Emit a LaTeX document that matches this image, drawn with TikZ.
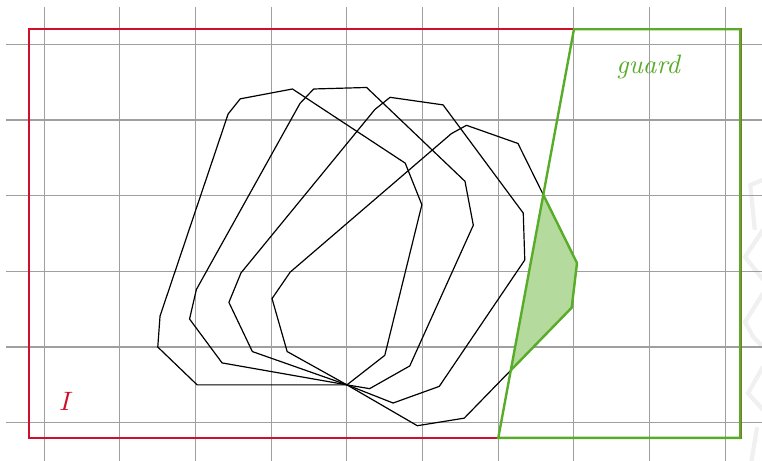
\documentclass[tikz,border=0pt]{standalone}
\usepackage{tikz}
\definecolor{invred}{RGB}{206,16,44}
\definecolor{guardgreen}{RGB}{88,172,40}

\begin{document}
\begin{tikzpicture}[
  gridline/.style  = {gray!75, line width=0.4pt},
  poly/.style      = {black, line width=0.45pt},
  invline/.style   = {invred, line width=0.8pt},
  guardline/.style = {guardgreen, line width=0.9pt},
  hit/.style       = {guardgreen, fill=guardgreen!45, line width=0.9pt},
  ghost/.style     = {gray!12, line width=1.6pt},
]
  \useasboundingbox (-0.585,-0.493) rectangle (9.485,5.586);
  \clip (-0.585,-0.493) rectangle (9.485,5.586);

  % faint shapes at the right border
  \draw[ghost] (9.5,3.21) -- (9.33,3.14) -- (9.39,2.55);
  \draw[ghost] (9.5,2.55) -- (9.26,2.19) -- (9.5,1.89);
  \draw[ghost] (9.5,1.71) -- (9.26,1.33) -- (9.37,1.13) -- (9.5,1.0);
  \draw[ghost] (9.5,0.74) -- (9.30,0.39) -- (9.5,0.17);
  \draw[ghost] (9.42,-0.06) -- (9.33,-0.6);

  \draw[gridline] (-0.5,-0.5) grid (9.5,5.5);

  \coordinate (A) at (4,0.5);

  \draw[poly] (A) -- (2.02,0.5) -- (1.5,1.0) -- (1.53,1.41) -- (2.43,4.08) -- (2.59,4.28)
              -- (3.28,4.41) -- (4.77,3.43) -- (4.99,2.88) -- (4.5,0.89) -- cycle;
  \draw[poly] (A) -- (2.35,0.79) -- (1.92,1.37) -- (2.01,1.76) -- (3.38,4.22) -- (3.56,4.41)
              -- (4.26,4.43) -- (5.56,3.19) -- (5.67,2.61) -- (4.83,0.75) -- (4.3,0.45) -- cycle;
  \draw[poly] (A) -- (2.75,0.94) -- (2.44,1.59) -- (2.6,1.98) -- (4.37,4.14) -- (4.57,4.3)
              -- (5.27,4.2) -- (6.33,2.77) -- (6.35,2.15) -- (5.22,0.48) -- (4.61,0.26) -- cycle;
  \draw[poly] (A) -- (3.21,0.94) -- (3.01,1.64) -- (3.25,1.99) -- (5.38,3.82) -- (5.58,3.93)
              -- (6.26,3.69) -- (7.04,2.11) -- (6.97,1.52) -- (5.55,0.06) -- (4.93,-0.04) -- cycle;

  % part of the last one inside the guard
  \begin{scope}
    \clip (6,-0.2) -- (7,5.2) -- (9.2,5.2) -- (9.2,-0.2) -- cycle;
    \filldraw[hit] (A) -- (3.21,0.94) -- (3.01,1.64) -- (3.25,1.99) -- (5.38,3.82) -- (5.58,3.93)
                -- (6.26,3.69) -- (7.04,2.11) -- (6.97,1.52) -- (5.55,0.06) -- (4.93,-0.04) -- cycle;
  \end{scope}

  \draw[invline] (-0.2,-0.2) rectangle (9.2,5.2);
  \draw[guardline] (6,-0.2) -- (7,5.2) -- (9.2,5.2) -- (9.2,-0.2) -- cycle;

  \node[text=invred]     (invlbl)   at (0.29,0.28) {$I$};
  \node[text=guardgreen] (guardlbl) at (7.99,4.70) {\textit{guard}};
\end{tikzpicture}
\end{document}
